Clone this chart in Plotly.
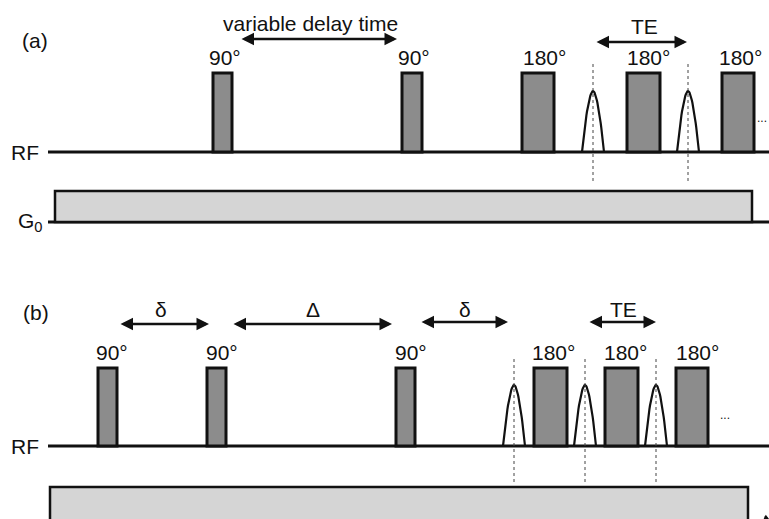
import numpy as np
import plotly.graph_objects as go

W, H = 769, 519
FONT = "Liberation Sans, Arial, sans-serif"

# ---- panel (a) ----
a_baseline_y = 152
a_pulse_top = 73
a_pulses_x0 = [213, 402, 522, 627, 722]
a_pulses_x1 = [232, 422, 554, 660, 754]
a_labels = ["90°", "90°", "180°", "180°", "180°"]
a_label_x = [225, 414, 544, 648, 740]
a_label_y = 57
a_echo_x = [593, 688]
a_echo_peak = 91
a_dash_y = [64, 183]
a_g0 = [55, 752, 191, 222]   # x0, x1, top, bottom
a_arrows = [(240, 397, 39, "variable delay time", 310, 23), (595, 687, 42, "TE", 644, 26)]

# ---- panel (b) ----
b_baseline_y = 446
b_pulse_top = 368
b_pulses_x0 = [98, 207, 396, 534, 605, 676]
b_pulses_x1 = [117, 226, 415, 567, 638, 708]
b_labels = ["90°", "90°", "90°", "180°", "180°", "180°"]
b_label_x = [112, 222, 411, 553, 625, 697]
b_label_y = 352
b_echo_x = [514, 585, 656]
b_echo_peak = 385
b_dash_y = [359, 482]
b_g0 = [50, 748, 487, 530]
b_arrows = [(119, 209, 324, "δ", 161, 309), (232, 392, 324, "Δ", 313, 309),
            (420, 508, 322, "δ", 465, 309), (588, 656, 322, "TE", 623, 309)]

ECHO_HALF = 11
PULSE_FILL = "#8c8c8c"
G0_FILL = "#d5d5d5"
INK = "#111111"

fig = go.Figure()
shapes = []
ann = []


def panel(baseline, top, px0, px1, labels, lx, ly, echo_x, peak, dash_y, g0, arrows):
    # baselines
    shapes.append(dict(type="line", x0=48, x1=W + 5, y0=baseline, y1=baseline,
                       line=dict(color=INK, width=3)))
    shapes.append(dict(type="line", x0=48, x1=W + 5, y0=g0[3], y1=g0[3],
                       line=dict(color=INK, width=3)))
    # G0 block
    shapes.append(dict(type="rect", x0=g0[0], x1=g0[1], y0=g0[2], y1=g0[3],
                       fillcolor=G0_FILL, line=dict(color=INK, width=2.5)))
    # RF pulses
    for x0, x1 in zip(px0, px1):
        shapes.append(dict(type="rect", x0=x0, x1=x1, y0=top, y1=baseline,
                           fillcolor=PULSE_FILL, line=dict(color=INK, width=3)))
    for t, x in zip(labels, lx):
        ann.append(dict(x=x, y=ly, text=t, showarrow=False,
                        font=dict(size=21, color=INK, family=FONT),
                        xanchor="center", yanchor="middle"))
    # echoes
    for ex in echo_x:
        t = np.linspace(-1, 1, 41)
        xs = ex + ECHO_HALF * t
        ys = baseline - (baseline - peak) * (1 - np.abs(t) ** 1.8)
        fig.add_trace(go.Scatter(x=xs, y=ys, mode="lines",
                                 line=dict(color=INK, width=2.2),
                                 hoverinfo="skip", showlegend=False))
        shapes.append(dict(type="line", x0=ex, x1=ex, y0=dash_y[0], y1=dash_y[1],
                           line=dict(color="#444444", width=1, dash="dot")))
    # double arrows
    for x0, x1, y, txt, tx, ty in arrows:
        ann.append(dict(x=x1, y=y, ax=x0, ay=y, xref="x", yref="y", axref="x", ayref="y",
                        showarrow=True, arrowhead=2, arrowside="end+start",
                        arrowsize=1, arrowwidth=2.5, arrowcolor=INK, text="",
                        standoff=0, startstandoff=0))
        ann.append(dict(x=tx, y=ty, text=txt, showarrow=False,
                        font=dict(size=21, color=INK, family=FONT),
                        xanchor="center", yanchor="middle"))


panel(a_baseline_y, a_pulse_top, a_pulses_x0, a_pulses_x1, a_labels, a_label_x, a_label_y,
      a_echo_x, a_echo_peak, a_dash_y, a_g0, a_arrows)
panel(b_baseline_y, b_pulse_top, b_pulses_x0, b_pulses_x1, b_labels, b_label_x, b_label_y,
      b_echo_x, b_echo_peak, b_dash_y, b_g0, b_arrows)

# side labels
for txt, x, y in [("(a)", 35, 40), ("RF", 25, 152), ("G<sub>0</sub>", 30, 222),
                  ("(b)", 36, 312), ("RF", 25, 446)]:
    ann.append(dict(x=x, y=y, text=txt, showarrow=False,
                    font=dict(size=21, color=INK, family=FONT),
                    xanchor="center", yanchor="middle"))
# ellipses
for x, y in [(769, 118), (725, 415)]:
    ann.append(dict(x=x, y=y, text="...", showarrow=False,
                    font=dict(size=12, color=INK, family=FONT),
                    xanchor="right" if x > 760 else "center", yanchor="middle"))
# small axis arrow at bottom right
ann.append(dict(x=769, y=519, ax=763, ay=516, xref="x", yref="y", axref="x", ayref="y",
                showarrow=True, arrowhead=2, arrowsize=0.8, arrowwidth=1.2,
                arrowcolor=INK, text=""))

fig.update_layout(
    width=W, height=H, margin=dict(l=0, r=0, t=0, b=0),
    paper_bgcolor="white", plot_bgcolor="white",
    xaxis=dict(range=[0, W], visible=False, fixedrange=True),
    yaxis=dict(range=[H, 0], visible=False, fixedrange=True),
    shapes=shapes, annotations=ann, showlegend=False,
)
fig.write_html("out.html")
